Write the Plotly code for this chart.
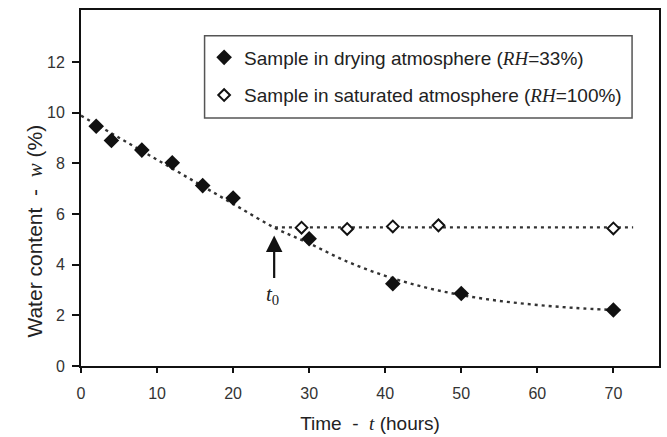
import plotly.graph_objects as go

dry_t = [2, 4, 8, 12, 16, 20, 30, 41, 50, 70]
dry_w = [9.46, 8.90, 8.52, 8.02, 7.12, 6.63, 5.02, 3.25, 2.86, 2.21]

sat_t = [29, 35, 41, 47, 70]
sat_w = [5.46, 5.41, 5.51, 5.55, 5.43]

# Fitted trend lines
dry_fit_t = [0, 5, 10, 15, 20, 25.5, 30, 35, 40, 45, 50, 55, 60, 65, 70]
dry_fit_w = [9.88, 9.01, 8.14, 7.27, 6.40, 5.45, 4.84, 4.12, 3.56, 3.12, 2.80, 2.57, 2.41, 2.29, 2.21]

sat_fit_t = [25.5, 72.6]
sat_fit_w = [5.47, 5.47]

t0 = 25.4

x_ticks = [0, 10, 20, 30, 40, 50, 60, 70]
y_ticks = [0, 2, 4, 6, 8, 10, 12]

serif = "Liberation Serif, Times New Roman, serif"
sans = "Liberation Sans, Arial, sans-serif"
dash = "3px,4px"

fig = go.Figure()
fig.add_trace(go.Scatter(x=dry_fit_t, y=dry_fit_w, mode="lines", line=dict(color="#333", width=2.4, dash=dash, shape="spline"),
                         showlegend=False, hoverinfo="skip"))
fig.add_trace(go.Scatter(x=sat_fit_t, y=sat_fit_w, mode="lines", line=dict(color="#333", width=2.4, dash=dash),
                         showlegend=False, hoverinfo="skip"))
fig.add_trace(go.Scatter(x=dry_t, y=dry_w, mode="markers", legendgroup="a",
                         name="Sample in drying atmosphere (<span style='font-family:Liberation Serif'><i>RH</i></span>=33%)",
                         marker=dict(symbol="diamond", size=12, color="#111", line=dict(width=0))))
fig.add_trace(go.Scatter(x=sat_t, y=sat_w, mode="markers", legendgroup="b",
                         name="Sample in saturated atmosphere (<span style='font-family:Liberation Serif'><i>RH</i></span>=100%)",
                         marker=dict(symbol="diamond", size=9, color="white", line=dict(width=2, color="#111"))))

# legend frame
fig.add_shape(type="rect", xref="paper", yref="paper", x0=0.2138, x1=0.9534, y0=0.6964, y1=0.9276,
              line=dict(color="#555", width=1.5), fillcolor="white", layer="below")

# t0 arrow and label
fig.add_annotation(x=t0, y=5.15, ax=t0, ay=3.41, xref="x", yref="y", axref="x", ayref="y", text="",
                   showarrow=True, arrowhead=2, arrowsize=1.5, arrowwidth=2.2, arrowcolor="#111", standoff=0)
fig.add_annotation(x=t0 - 0.2, y=2.8, xref="x", yref="y", text="<i>t</i><sub>0</sub>", showarrow=False,
                   font=dict(family=serif, size=21, color="#222"))

# y axis title
fig.add_annotation(x=-0.104, y=0.38, xref="paper", yref="paper", textangle=-90, showarrow=False,
                   text="Water content  -  <span style='font-family:Liberation Serif'><i>w</i></span> (%)",
                   font=dict(family=sans, size=21, color="#222"))

axis_common = dict(showgrid=False, zeroline=False, showline=True, linecolor="#111", linewidth=2, mirror=True,
                   ticks="outside", tickcolor="#111", tickwidth=2, tickfont=dict(family=sans, size=16, color="#333"))

fig.update_xaxes(range=[0, 76], tickvals=x_ticks, ticklen=5, ticklabelstandoff=7,
                 title=dict(text="Time  -  <span style='font-family:Liberation Serif'><i>t</i></span> (hours)",
                            font=dict(family=sans, size=19, color="#222"), standoff=15),
                 **axis_common)
fig.update_yaxes(range=[0, 14.05], tickvals=y_ticks, ticklen=7, ticklabelstandoff=4, **axis_common)

fig.update_layout(
    width=667, height=437,
    margin=dict(l=81, r=6, t=10, b=68),
    paper_bgcolor="white", plot_bgcolor="white",
    legend=dict(x=0.213, y=0.92, xanchor="left", yanchor="top", bgcolor="rgba(0,0,0,0)", borderwidth=0,
                font=dict(family=sans, size=19, color="#222"), tracegroupgap=10),
)

fig.write_html("out.html", config={"displayModeBar": False},
               post_script="document.body.style.margin='0';document.body.style.overflow='hidden';")
